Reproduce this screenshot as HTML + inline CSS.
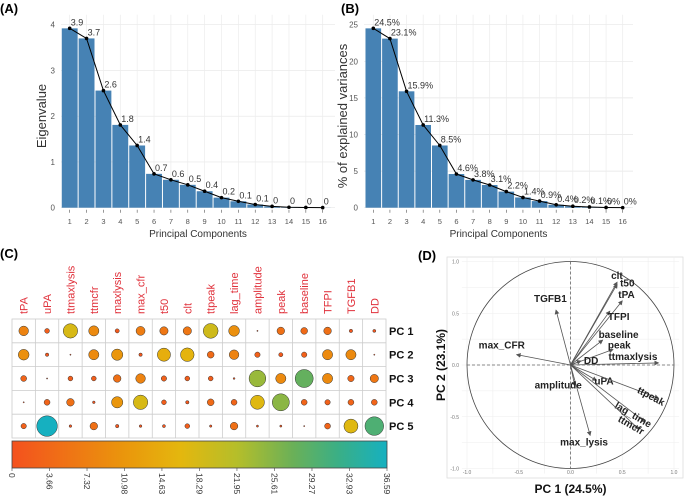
<!DOCTYPE html>
<html><head><meta charset="utf-8"><style>
body{margin:0;background:#fff;}
svg{display:block;font-family:"Liberation Sans",sans-serif;}
</style></head><body>
<svg id="fig" width="685" height="498" viewBox="0 0 685 498">
<text x="0" y="13" font-size="13" font-weight="bold">(A)</text>
<text x="341" y="13" font-size="13" font-weight="bold">(B)</text>
<text x="0" y="258" font-size="13" font-weight="bold">(C)</text>
<text x="418" y="260" font-size="13" font-weight="bold">(D)</text>
<g id="pa"></g>
<g id="pb"></g>
<g id="pc"></g>
<g id="pd"></g>
</svg>
<script>
const components=[1,2,3,4,5,6,7,8,9,10,11,12,13,14,15,16];
const eigenvalues=[3.92,3.7,2.56,1.81,1.36,0.74,0.61,0.5,0.36,0.22,0.14,0.07,0.03,0.01,0.005,0.002];
const eigenLabels=["3.9","3.7","2.6","1.8","1.4","0.7","0.6","0.5","0.4","0.2","0.1","0.1","0","0","0","0"];
const eigenTicks=[0,1,2,3,4];
const variances=[24.5,23.1,15.9,11.3,8.5,4.6,3.8,3.1,2.2,1.4,0.9,0.4,0.2,0.1,0.03,0.01];
const varLabels=["24.5%","23.1%","15.9%","11.3%","8.5%","4.6%","3.8%","3.1%","2.2%","1.4%","0.9%","0.4%","0.2%","0.1%","0%","0%"];
const varTicks=[0,5,10,15,20,25];
const variables=["tPA","uPA","ttmaxlysis","ttmcfr","maxlysis","max_cfr","t50","clt","ttpeak","lag_time","amplitude","peak","baseline","TFPI","TGFB1","DD"];
const pcNames=["PC 1","PC 2","PC 3","PC 4","PC 5"];
const contrib1=[8,2,18,9,1.5,7,6,6,19,10,0.1,5,4,5,1,0.8];
const contrib2=[10,1,0.1,9,11,1,15,16,4,8,2.5,1.5,2.5,9,9,0.1];
const contrib3=[3,0.1,2,2,5,8,2.5,2,2,0.3,24,9,28,9,3.5,6];
const contrib4=[0.05,3,5,0.6,11,18,2,1,4,3,17,25,3,2.5,3,3];
const contrib5=[2.5,36.59,0.6,5,1,0.6,0.8,2,0.5,5,0.4,0.4,0.05,3,17,30];
const colorTicks=[0,3.66,7.32,10.98,14.63,18.29,21.95,25.61,29.27,32.93,36.59];
const loadingNames=["clt","t50","tPA","TFPI","baseline","peak","ttmaxlysis","DD","uPA","ttpeak","lag_time","ttmcfr","max_lysis","amplitude","max_CFR","TGFB1"];
const loadingPC1=[0.45,0.45,0.5,0.38,0.31,0.41,0.85,0.1,0.25,0.85,0.72,0.66,0.19,0.04,-0.52,-0.14];
const loadingPC2=[0.8,0.78,0.62,0.52,0.24,0.15,0.02,0.04,-0.15,-0.32,-0.55,-0.62,-0.68,-0.2,0.1,0.53];
const axisTicksD=[-1,-0.5,0,0.5,1];
const NS="http://www.w3.org/2000/svg";
function mk(parent,tag,attrs,txt){const e=document.createElementNS(NS,tag);for(const k in attrs)e.setAttribute(k,attrs[k]);if(txt!==undefined)e.textContent=txt;parent.appendChild(e);return e;}

function screePanel(g,vals,labels,ticks,ymax,x0,x1,bar1,bar16,ytitle,ytitleX){
  const yTop=24.7,yBot=207.7;
  const ys=v=>yBot-(v/ymax)*(yBot-yTop);
  const step=(bar16-bar1)/15;
  const xs=i=>bar1+i*step;
  ticks.forEach(t=>{
    const l=mk(g,'line',{x1:x0,x2:x1,y1:ys(t),y2:ys(t),stroke:'#e6e6e6','stroke-width':0.7});
    
    
    const tx=mk(g,'text',{x:x0-6,y:ys(t)+3,'font-size':8,fill:'#555','text-anchor':'end'},String(t));
    
    
  });
  components.forEach((c,i)=>{
    mk(g,'line',{x1:xs(i),x2:xs(i),y1:yTop-10,y2:yBot,stroke:'#ececec','stroke-width':0.7});
  });
  vals.forEach((v,i)=>{
    const r=mk(g,'rect',{x:xs(i)-step/2+0.5,y:ys(v),width:step-1,height:yBot-ys(v),fill:'#4682b4'});
    
    
  });
  const pts=vals.map((v,i)=>xs(i)+','+ys(v)).join(' ');
  const pl=mk(g,'polyline',{points:pts,fill:'none',stroke:'#000','stroke-width':1});
  
  
  vals.forEach((v,i)=>{
    const p=mk(g,'circle',{cx:xs(i),cy:ys(v),r:1.8,fill:'#000'});
    
    
    const t=mk(g,'text',{x:xs(i)+1,y:ys(v)-3,'font-size':9,fill:'#333'},labels[i]);
    
    
    const tl=mk(g,'text',{x:xs(i),y:224,'font-size':7.5,fill:'#555','text-anchor':'middle'},String(components[i]));
    
    
    mk(g,'line',{x1:xs(i),x2:xs(i),y1:yBot+2,y2:yBot+5,stroke:'#555','stroke-width':0.6});
  });
  const xt=mk(g,'text',{x:(x0+x1)/2,y:237,'font-size':10,fill:'#333','text-anchor':'middle'},'Principal Components');
  
  
  const yt=mk(g,'text',{x:ytitleX,y:116,'font-size':13,fill:'#333','text-anchor':'middle',transform:`rotate(-90 ${ytitleX} 116)`},ytitle);
  
  
}
screePanel(document.getElementById('pa'),eigenvalues,eigenLabels,eigenTicks,4,61,335,69.7,322.7,'Eigenvalue',46);
screePanel(document.getElementById('pb'),variances,varLabels,varTicks,25,364,633,373.3,622.7,'% of explained variances',347);

const stops=[[0,[244,81,30]],[0.3,[234,150,12]],[0.45,[228,183,14]],[0.6,[181,190,42]],[0.75,[106,176,88]],[0.87,[58,175,134]],[1,[22,176,192]]];
function colorOf(v){const t=Math.max(0,Math.min(1,v/36.59));for(let i=1;i<stops.length;i++){if(t<=stops[i][0]){const a=stops[i-1],b=stops[i];const f=(t-a[0])/(b[0]-a[0]);const c=a[1].map((x,k)=>Math.round(x+(b[1][k]-x)*f));return `rgb(${c})`;}}return 'rgb(22,176,192)';}
(function(){
  const g=document.getElementById('pc');
  const gx0=12,gx1=386,gy0=319,rh=23.8;
  const cw=(gx1-gx0)/variables.length;
  const rows=[contrib1,contrib2,contrib3,contrib4,contrib5];
  mk(g,'rect',{x:gx0,y:gy0,width:gx1-gx0,height:rh*5,fill:'#fff',stroke:'#ccc','stroke-width':0.8});
  for(let i=1;i<variables.length;i++)mk(g,'line',{x1:gx0+i*cw,x2:gx0+i*cw,y1:gy0,y2:gy0+rh*5,stroke:'#ccc','stroke-width':0.8});
  for(let j=1;j<5;j++)mk(g,'line',{x1:gx0,x2:gx1,y1:gy0+j*rh,y2:gy0+j*rh,stroke:'#ccc','stroke-width':0.8});
  variables.forEach((v,i)=>{
    const cx=gx0+cw*(i+0.5);
    const t=mk(g,'text',{x:cx+4,y:314,'font-size':11,fill:'#e0303a',transform:`rotate(-90 ${cx+4} 314)`},v);
    
    
  });
  pcNames.forEach((p,j)=>{
    const t=mk(g,'text',{x:389,y:gy0+rh*(j+0.5)+4,'font-size':11,'font-weight':'bold',fill:'#111'},p);
    
    
    rows[j].forEach((v,i)=>{
      const r=Math.max(0.6,10.3*Math.sqrt(v/36.59));
      const c=mk(g,'circle',{cx:gx0+cw*(i+0.5),cy:gy0+rh*(j+0.5),r:r,fill:colorOf(v),stroke:'#333','stroke-width':0.5});
      
      
    });
  });
  const defs=mk(g,'defs',{});
  const lg=mk(defs,'linearGradient',{id:'cb',x1:0,x2:1,y1:0,y2:0});
  stops.forEach(s=>mk(lg,'stop',{offset:s[0],'stop-color':`rgb(${s[1]})`}));
  const cb=mk(g,'rect',{x:12,y:441,width:375,height:27,fill:'url(#cb)',stroke:'#444','stroke-width':0.8});
  
  
  colorTicks.forEach(t=>{
    const x=12+375*t/36.59;
    mk(g,'line',{x1:x,x2:x,y1:468,y2:471,stroke:'#444','stroke-width':0.6});
    const tx=mk(g,'text',{x:x-3,y:473,'font-size':8.5,fill:'#333',transform:`rotate(90 ${x-3} 473)`},String(t));
    
    
  });
})();

(function(){
  const g=document.getElementById('pd');
  const cx=570.5,cy=365,R=103.5;
  const xs=v=>cx+v*R, ys=v=>cy-v*R;
  mk(g,'rect',{x:447,y:257,width:236,height:221,fill:'none',stroke:'#ddd','stroke-width':0.8});
  [-1,-0.75,-0.5,-0.25,0,0.25,0.5,0.75,1].forEach(t=>{
    mk(g,'line',{x1:xs(t),x2:xs(t),y1:ys(1.05),y2:ys(-1.05),stroke:'#eee','stroke-width':0.6});
    mk(g,'line',{x1:xs(-1.05),x2:xs(1.05),y1:ys(t),y2:ys(t),stroke:'#eee','stroke-width':0.6});
  });
  axisTicksD.forEach(t=>{
    const a=mk(g,'text',{x:xs(t),y:474,'font-size':5,fill:'#777','text-anchor':'middle'},t.toFixed(1));
    
    
    const b=mk(g,'text',{x:459,y:ys(t)+2,'font-size':5,fill:'#777','text-anchor':'end'},t.toFixed(1));
    
    
  });
  const circ=mk(g,'circle',{cx:cx,cy:cy,r:R,fill:'none',stroke:'#444','stroke-width':0.8});
  
  
  mk(g,'line',{x1:xs(-1),x2:xs(1),y1:cy,y2:cy,stroke:'#666','stroke-width':0.8,'stroke-dasharray':'3,2'});
  mk(g,'line',{x1:cx,x2:cx,y1:ys(1),y2:ys(-1),stroke:'#666','stroke-width':0.8,'stroke-dasharray':'3,2'});
  const mdef=mk(g,'defs',{});
  const m=mk(mdef,'marker',{id:'ah',markerWidth:6,markerHeight:6,refX:5,refY:3,orient:'auto'});
  mk(m,'path',{d:'M0,0 L6,3 L0,6 z',fill:'#555'});
  const offs={clt:[-6,-3],t50:[3,2],tPA:[-4,-3],TFPI:[-2,9],baseline:[-4,-2],peak:[-5,-1],ttmaxlysis:[-50,-3],DD:[3,3],uPA:[-2,4],ttpeak:[4,8],lag_time:[4,6],ttmcfr:[3,6],max_lysis:[-30,10],amplitude:[-40,3],max_CFR:[-38,-6],TGFB1:[-22,-8]};
  const rots={ttpeak:28,lag_time:30,ttmcfr:30};
  loadingNames.forEach((n,i)=>{
    const x=xs(loadingPC1[i]),y=ys(loadingPC2[i]);
    const l=mk(g,'line',{x1:cx,y1:cy,x2:x,y2:y,stroke:'#555','stroke-width':0.8,'marker-end':'url(#ah)'});
    
    
    const o=offs[n]||[2,-2];
    const tx=x+o[0],ty=y+o[1];
    const attrs={x:tx,y:ty,'font-size':10,'font-weight':'bold',fill:'#222'};
    if(rots[n]){attrs.transform=`rotate(${rots[n]} ${tx} ${ty})`;attrs['text-anchor']='end';}
    const t=mk(g,'text',attrs,n);
    
    
  });
  const xt=mk(g,'text',{x:cx,y:493,'font-size':12,'font-weight':'bold',fill:'#111','text-anchor':'middle'},'PC 1 (24.5%)');
  
  
  const yt=mk(g,'text',{x:445,y:cy,'font-size':12,'font-weight':'bold',fill:'#111','text-anchor':'middle',transform:`rotate(-90 445 ${cy})`},'PC 2 (23.1%)');
  
  
})();
</script>
</body></html>
